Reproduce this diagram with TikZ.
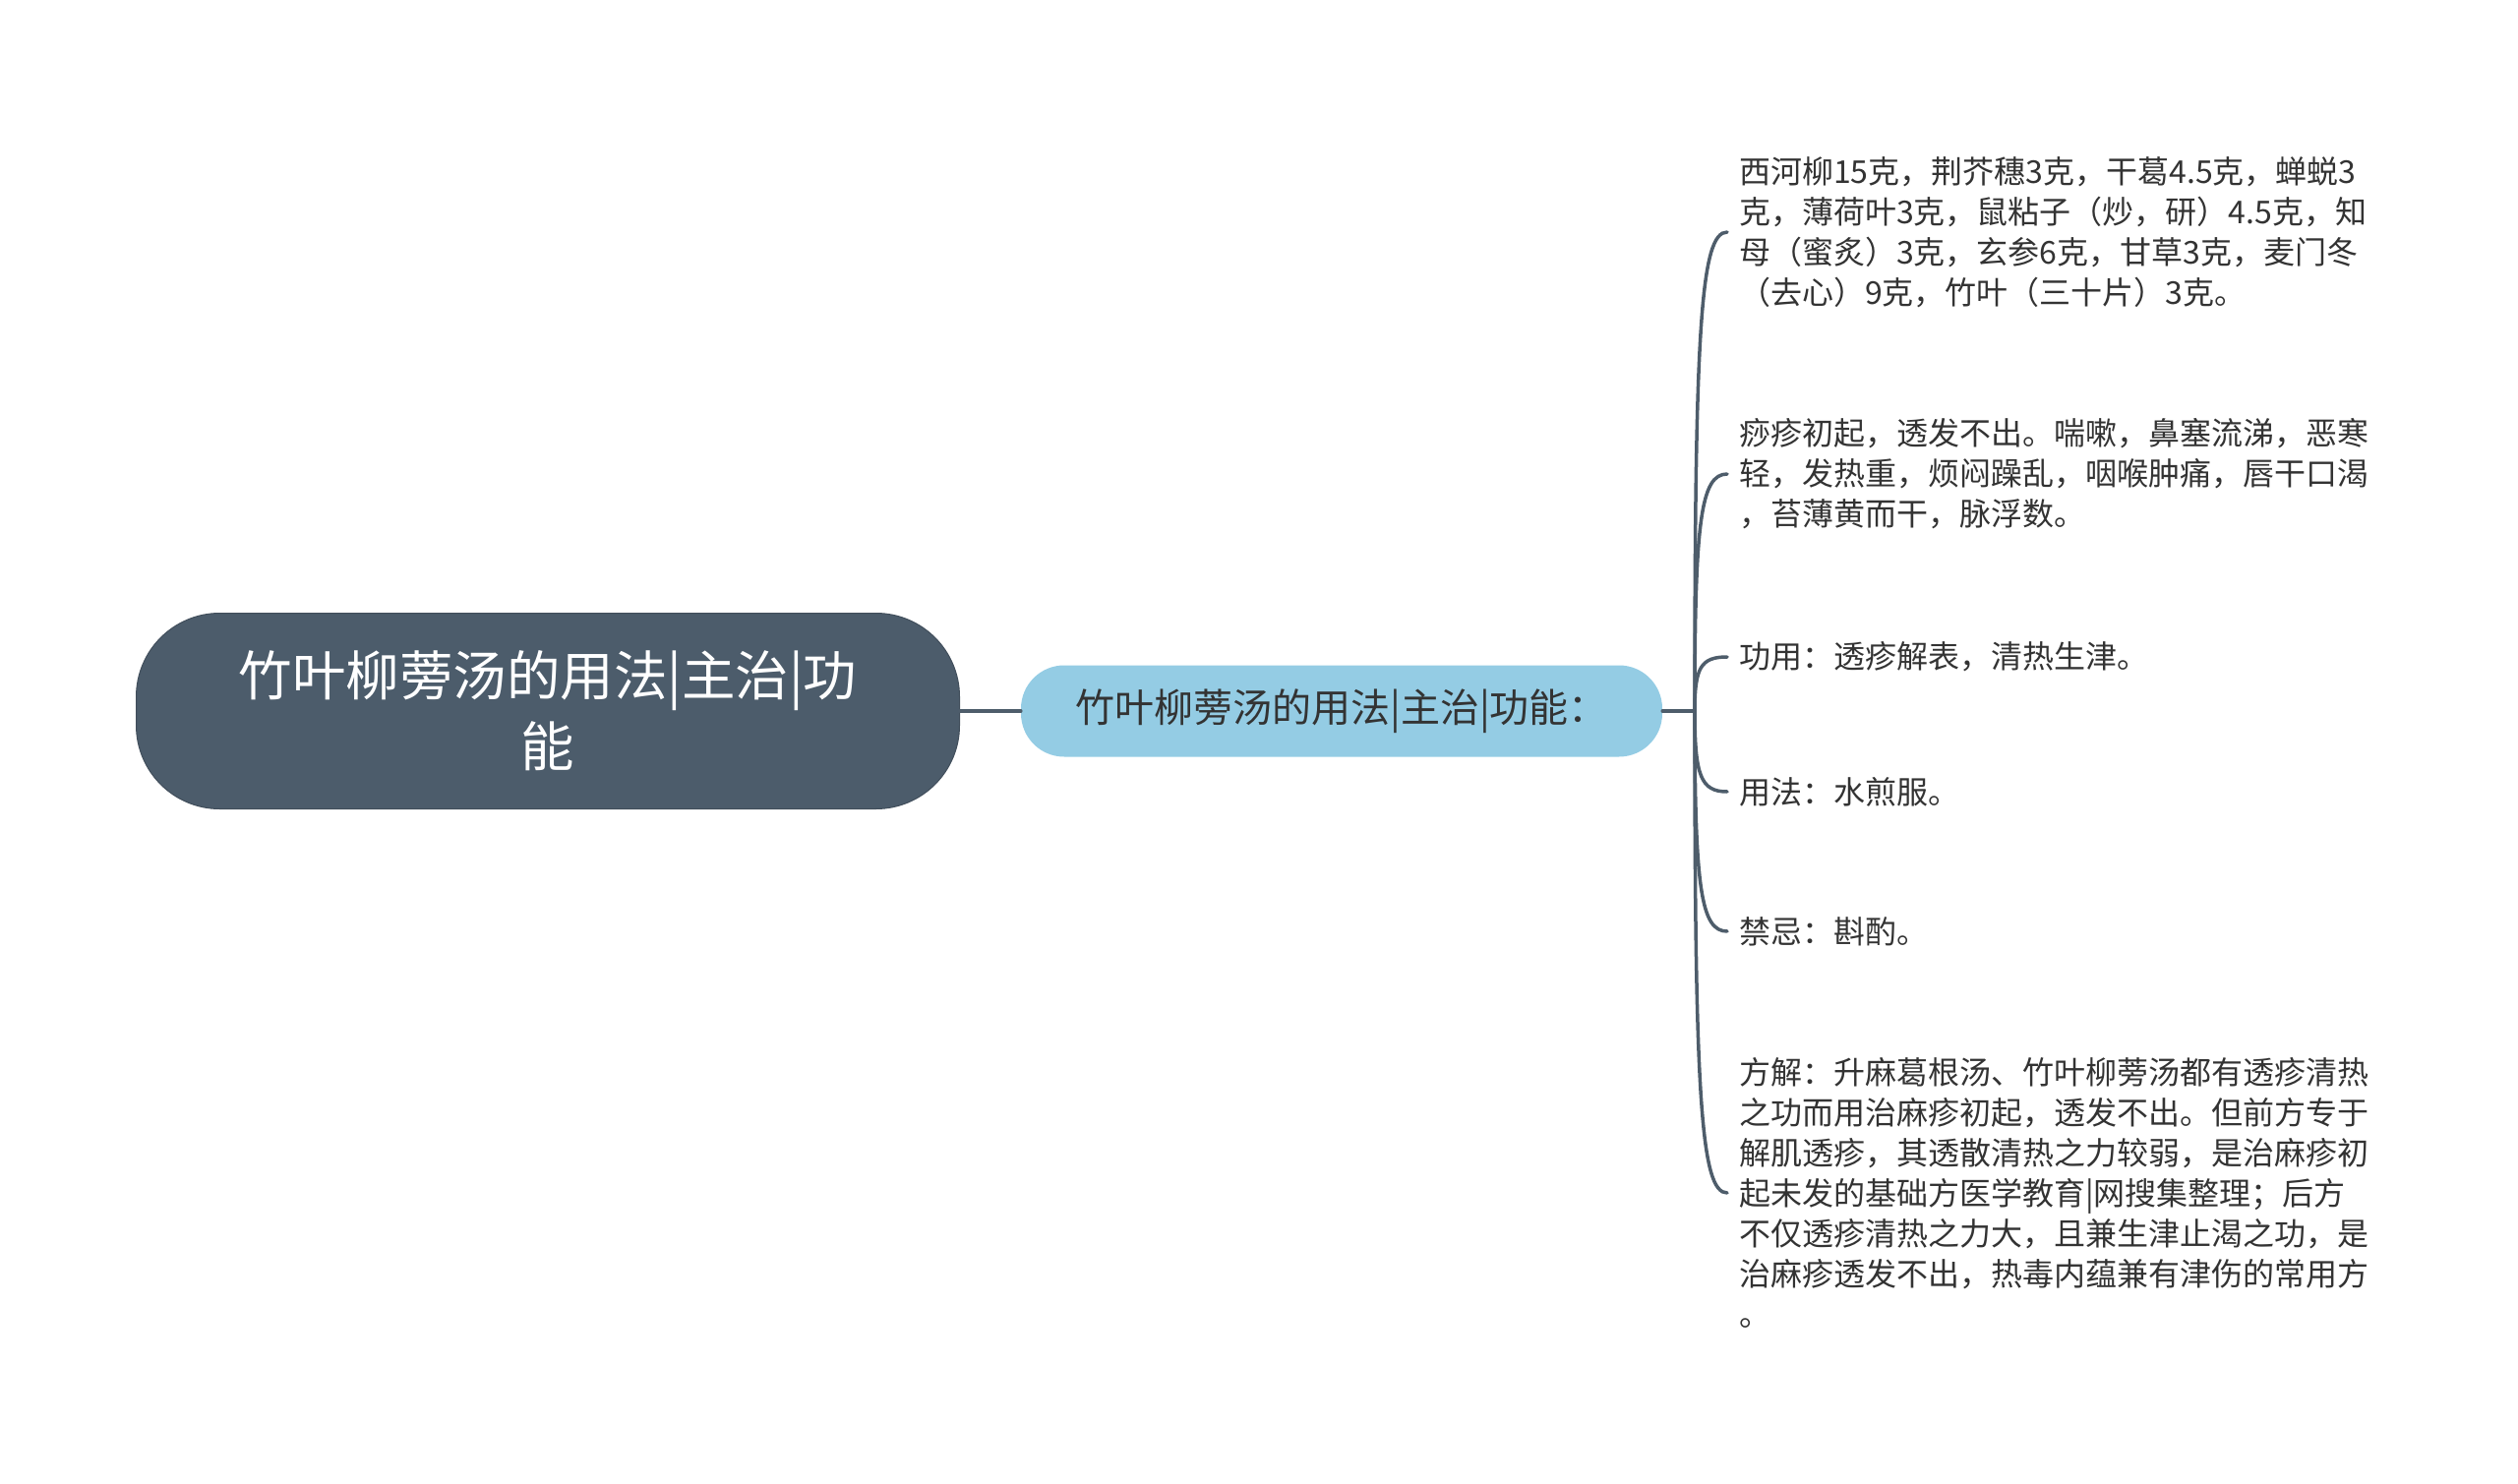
\documentclass[tikz,border=0pt]{standalone}
\usepackage{fontspec}
\setmainfont{Noto Sans CJK SC}
\usetikzlibrary{calc}
\definecolor{rootc}{HTML}{4C5C6B}
\definecolor{childc}{HTML}{94CCE4}
\definecolor{linec}{HTML}{4E5D6B}
\definecolor{txtc}{HTML}{333333}
\begin{document}
\begin{tikzpicture}[x=1pt,y=-1pt,
 rootbox/.style={fill=rootc, draw=rootc!85!black, line width=1pt, rounded corners=85pt, minimum width=837pt, minimum height=199pt, text=white, align=center, font=\fontsize{54.5}{72}\selectfont, inner sep=0pt},
 childbox/.style={fill=childc, rounded corners=44pt, minimum width=652pt, minimum height=93pt, text=txtc, font=\fontsize{40}{44}\selectfont, inner sep=0pt},
 leaf/.style={anchor=west, align=left, text=txtc, font=\fontsize{32}{41}\selectfont, inner sep=0pt, inner xsep=12pt},
 conn/.style={draw=linec, line width=3.5pt, line cap=round}]
\useasboundingbox (0,0) rectangle (2560,1509);

\node[rootbox] (root) at (557,723) {竹叶柳蒡汤的用法|主治|功\\能};
\node[childbox] (child) at (1364,723) {竹叶柳蒡汤的用法|主治|功能：};
\coordinate (j) at (1723,723);

\node[leaf] (l1) at (1756,236) {西河柳15克，荆芥穗3克，干葛4.5克，蝉蜕3\\克，薄荷叶3克，鼠粘子（炒，研）4.5克，知\\母（蜜炙）3克，玄参6克，甘草3克，麦门冬\\（去心）9克，竹叶（三十片）3克。};
\node[leaf] (l2) at (1756,482) {痧疹初起，透发不出。喘嗽，鼻塞流涕，恶寒\\轻，发热重，烦闷躁乱，咽喉肿痛，唇干口渴\\，苔薄黄而干，脉浮数。};
\node[leaf] (l3) at (1756,668) {功用：透疹解表，清热生津。};
\node[leaf] (l4) at (1756,805) {用法：水煎服。};
\node[leaf] (l5) at (1756,947) {禁忌：斟酌。};
\node[leaf] (l6) at (1756,1213) {方解：升麻葛根汤、竹叶柳蒡汤都有透疹清热\\之功而用治麻疹初起，透发不出。但前方专于\\解肌透疹，其透散清热之力较弱，是治麻疹初\\起未发的基础方医学教育|网搜集整理；后方\\不仅透疹清热之力大，且兼生津止渴之功，是\\治麻疹透发不出，热毒内蕴兼有津伤的常用方\\。};

\draw[conn] (root.east) -- (child.west);
\draw[conn] (child.east) -- (j);
\foreach \n in {l1,l2,l3,l4,l5,l6}{
  \draw[conn] (j) .. controls ($(j)!0.8!(j|-\n.west)$) and ($(j|-\n.west)+(6,0)$) .. (\n.west);
}
\end{tikzpicture}
\end{document}
